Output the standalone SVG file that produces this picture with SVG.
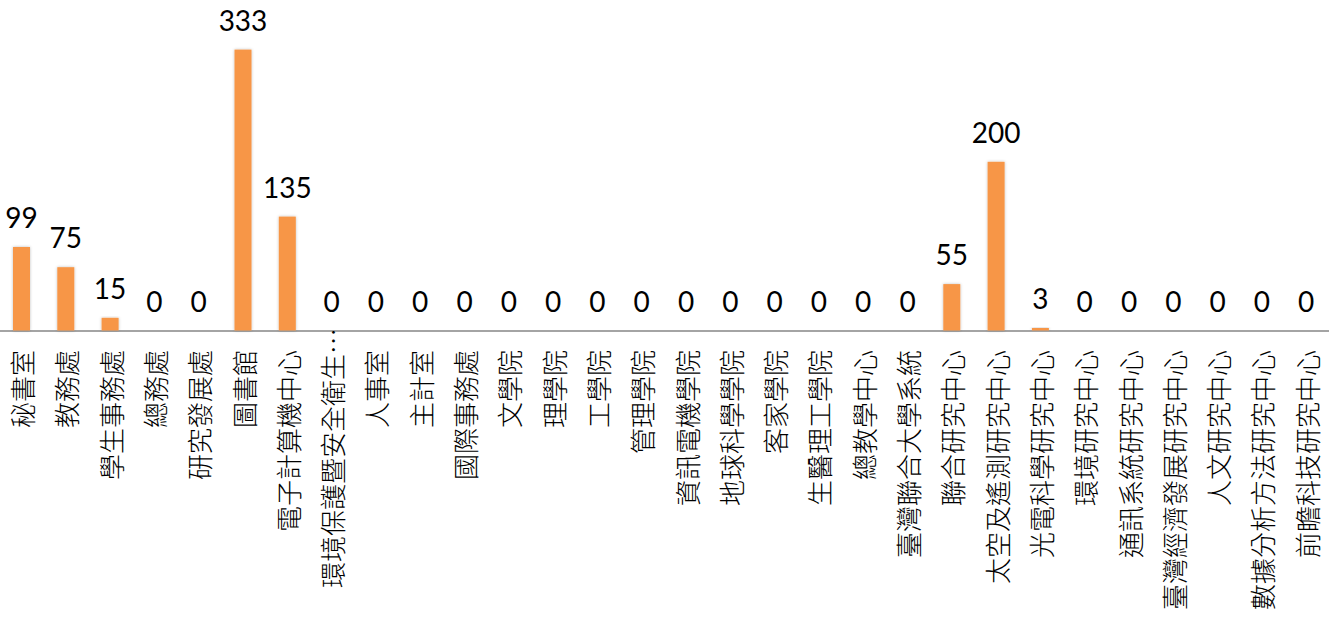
<svg xmlns="http://www.w3.org/2000/svg" width="1332" height="621" viewBox="0 0 1332 621">
<style>
.bar{fill:#F79646;filter:url(#sh)}
.val{font-family:Lato,"Liberation Sans",Arial,sans-serif;font-size:28px;fill:#000;text-anchor:middle}
.cat{font-family:"Noto Sans CJK TC","Noto Sans CJK SC",sans-serif;font-weight:300;font-size:26px;fill:#000;text-anchor:end;dominant-baseline:central}
.axis{stroke:#868686;stroke-width:1.5;fill:none}
</style>
<defs>
<filter id="sh" x="-50%" y="-10%" width="200%" height="120%">
<feGaussianBlur in="SourceAlpha" stdDeviation="1.5" result="b"/>
<feFlood flood-color="#000" flood-opacity="0.25"/>
<feComposite in2="b" operator="in" result="s"/>
<feMerge><feMergeNode in="s"/><feMergeNode in="SourceGraphic"/></feMerge>
</filter>
</defs>
<rect width="1332" height="621" fill="#fff"/>
<g id="connectors">
<line class="axis" x1="0" y1="331" x2="1329" y2="331"/>
</g>
<g id="c0"><rect class="bar" x="13" y="247" width="17" height="83.5"/><text class="val" x="21.5" y="228">99</text><text class="cat" transform="translate(21.5,350) rotate(-90)">秘書室</text></g>
<g id="c1"><rect class="bar" x="57.3" y="267.2" width="17" height="63.3"/><text class="val" x="65.8" y="248">75</text><text class="cat" transform="translate(65.8,350) rotate(-90)">教務處</text></g>
<g id="c2"><rect class="bar" x="101.6" y="317.8" width="17" height="12.7"/><text class="val" x="110.1" y="299">15</text><text class="cat" transform="translate(110.1,350) rotate(-90)">學生事務處</text></g>
<g id="c3"><text class="val" x="154.4" y="311.5">0</text><text class="cat" transform="translate(154.4,350) rotate(-90)">總務處</text></g>
<g id="c4"><text class="val" x="198.7" y="311.5">0</text><text class="cat" transform="translate(198.7,350) rotate(-90)">研究發展處</text></g>
<g id="c5"><rect class="bar" x="234.5" y="49.6" width="17" height="280.9"/><text class="val" x="243" y="30.5">333</text><text class="cat" transform="translate(243,350) rotate(-90)">圖書館</text></g>
<g id="c6"><rect class="bar" x="278.8" y="216.6" width="17" height="113.9"/><text class="val" x="287.3" y="197.5">135</text><text class="cat" transform="translate(287.3,350) rotate(-90)">電子計算機中心</text></g>
<g id="c7"><text class="val" x="331.6" y="311.5">0</text><text class="cat" style="text-anchor:start" transform="translate(331.6,588) rotate(-90)">環境保護暨安全衛生…</text></g>
<g id="c8"><text class="val" x="375.9" y="311.5">0</text><text class="cat" transform="translate(375.9,350) rotate(-90)">人事室</text></g>
<g id="c9"><text class="val" x="420.2" y="311.5">0</text><text class="cat" transform="translate(420.2,350) rotate(-90)">主計室</text></g>
<g id="c10"><text class="val" x="464.5" y="311.5">0</text><text class="cat" transform="translate(464.5,350) rotate(-90)">國際事務處</text></g>
<g id="c11"><text class="val" x="508.8" y="311.5">0</text><text class="cat" transform="translate(508.8,350) rotate(-90)">文學院</text></g>
<g id="c12"><text class="val" x="553.1" y="311.5">0</text><text class="cat" transform="translate(553.1,350) rotate(-90)">理學院</text></g>
<g id="c13"><text class="val" x="597.4" y="311.5">0</text><text class="cat" transform="translate(597.4,350) rotate(-90)">工學院</text></g>
<g id="c14"><text class="val" x="641.7" y="311.5">0</text><text class="cat" transform="translate(641.7,350) rotate(-90)">管理學院</text></g>
<g id="c15"><text class="val" x="686" y="311.5">0</text><text class="cat" transform="translate(686,350) rotate(-90)">資訊電機學院</text></g>
<g id="c16"><text class="val" x="730.3" y="311.5">0</text><text class="cat" transform="translate(730.3,350) rotate(-90)">地球科學學院</text></g>
<g id="c17"><text class="val" x="774.6" y="311.5">0</text><text class="cat" transform="translate(774.6,350) rotate(-90)">客家學院</text></g>
<g id="c18"><text class="val" x="818.9" y="311.5">0</text><text class="cat" transform="translate(818.9,350) rotate(-90)">生醫理工學院</text></g>
<g id="c19"><text class="val" x="863.2" y="311.5">0</text><text class="cat" transform="translate(863.2,350) rotate(-90)">總教學中心</text></g>
<g id="c20"><text class="val" x="907.5" y="311.5">0</text><text class="cat" transform="translate(907.5,350) rotate(-90)">臺灣聯合大學系統</text></g>
<g id="c21"><rect class="bar" x="943.3" y="284.1" width="17" height="46.4"/><text class="val" x="951.8" y="265">55</text><text class="cat" transform="translate(951.8,350) rotate(-90)">聯合研究中心</text></g>
<g id="c22"><rect class="bar" x="987.6" y="161.8" width="17" height="168.7"/><text class="val" x="996.1" y="142.5">200</text><text class="cat" transform="translate(996.1,350) rotate(-90)">太空及遙測研究中心</text></g>
<g id="c23"><rect class="bar" x="1031.9" y="328" width="17" height="2.5"/><text class="val" x="1040.4" y="309">3</text><text class="cat" transform="translate(1040.4,350) rotate(-90)">光電科學研究中心</text></g>
<g id="c24"><text class="val" x="1084.7" y="311.5">0</text><text class="cat" transform="translate(1084.7,350) rotate(-90)">環境研究中心</text></g>
<g id="c25"><text class="val" x="1129" y="311.5">0</text><text class="cat" transform="translate(1129,350) rotate(-90)">通訊系統研究中心</text></g>
<g id="c26"><text class="val" x="1173.3" y="311.5">0</text><text class="cat" transform="translate(1173.3,350) rotate(-90)">臺灣經濟發展研究中心</text></g>
<g id="c27"><text class="val" x="1217.6" y="311.5">0</text><text class="cat" transform="translate(1217.6,350) rotate(-90)">人文研究中心</text></g>
<g id="c28"><text class="val" x="1261.9" y="311.5">0</text><text class="cat" transform="translate(1261.9,350) rotate(-90)">數據分析方法研究中心</text></g>
<g id="c29"><text class="val" x="1306.2" y="311.5">0</text><text class="cat" transform="translate(1306.2,350) rotate(-90)">前瞻科技研究中心</text></g>
</svg>
